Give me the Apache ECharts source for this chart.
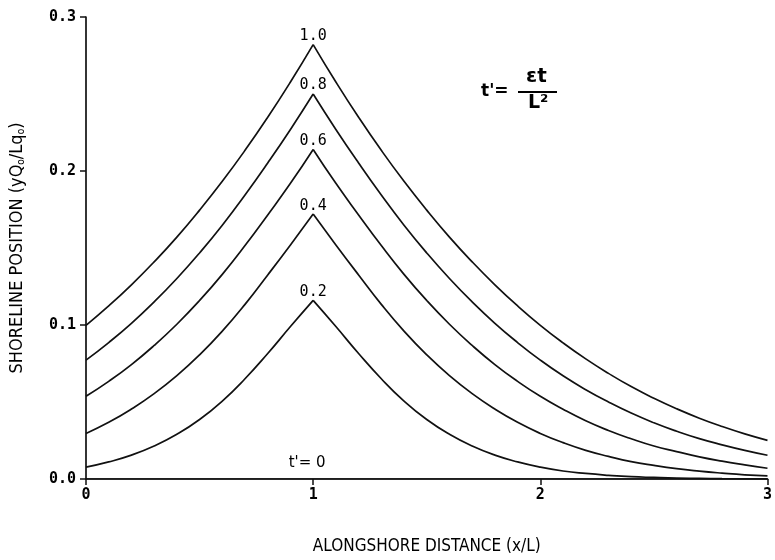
<!DOCTYPE html>
<html><head><meta charset="utf-8">
<script src="https://cdn.jsdelivr.net/npm/echarts@6/dist/echarts.min.js"></script>
<style>html,body{margin:0;padding:0;background:#fff}#c{width:775px;height:560px}</style>
</head><body><div id="c"></div>
<script>
const xValues = [0,0.1,0.2,0.3,0.4,0.5,0.6,0.7,0.8,0.9,1.0,1.1,1.2,1.3,1.4,1.5,1.6,1.7,1.8,1.9,2.0,2.1,2.2,2.3,2.4,2.5,2.6,2.7,2.8,2.9,3.0];
const tLabels = ['0.2','0.4','0.6','0.8','1.0'];
const y02 = [0.0077,0.0111,0.0155,0.0214,0.029,0.0386,0.0506,0.0651,0.0815,0.099,0.116,0.099,0.0815,0.0651,0.0506,0.0386,0.029,0.0214,0.0155,0.0111,0.0077,0.0052,0.0036,0.0024,0.0015,0.001,0.0006,0.0004,0.0002,0.0001,0.0001];
const y04 = [0.0296,0.0368,0.0454,0.0554,0.0671,0.0806,0.096,0.1134,0.1325,0.152,0.172,0.152,0.1325,0.1134,0.096,0.0806,0.0671,0.0554,0.0454,0.0368,0.0296,0.0236,0.0186,0.0147,0.0113,0.0088,0.0067,0.0051,0.0038,0.0027,0.002];
const y06 = [0.0537,0.0634,0.0743,0.0867,0.1005,0.1159,0.1329,0.1516,0.1715,0.192,0.214,0.192,0.1715,0.1516,0.1329,0.1159,0.1005,0.0867,0.0743,0.0634,0.0537,0.0453,0.0378,0.0315,0.0261,0.0214,0.0178,0.0144,0.0116,0.0092,0.007];
const y08 = [0.0772,0.0886,0.1011,0.115,0.1302,0.1468,0.1648,0.1844,0.2052,0.227,0.25,0.227,0.2052,0.1844,0.1648,0.1468,0.1302,0.115,0.1011,0.0886,0.0772,0.067,0.058,0.05,0.0428,0.0365,0.031,0.0262,0.0222,0.0186,0.0154];
const y10 = [0.0998,0.1124,0.1261,0.141,0.1571,0.1746,0.1933,0.2134,0.2349,0.2578,0.2821,0.2578,0.2349,0.2134,0.1933,0.1746,0.1571,0.141,0.1261,0.1124,0.0998,0.0884,0.078,0.0686,0.06,0.0524,0.0456,0.0395,0.0341,0.0293,0.0251];
const y00 = xValues.map(() => 0);
const curves = [y02, y04, y06, y08, y10];
const peakX = 1.0;

const ink = '#000';
const lineStyle = { color: '#111', width: 1.7 };
const series = [];
const pk = xValues.indexOf(peakX);
curves.forEach((ys) => {
  const left = xValues.slice(0, pk + 1).map((x, i) => [x, ys[i]]);
  const right = xValues.slice(pk).map((x, i) => [x, ys[pk + i]]);
  series.push({ type: 'line', data: left, smooth: 0.5, showSymbol: false, symbol: 'none', lineStyle, silent: true, z: 3 });
  series.push({ type: 'line', data: right, smooth: 0.5, showSymbol: false, symbol: 'none', lineStyle, silent: true, z: 3 });
});
series.push({ type: 'line', data: xValues.map((x, i) => [x, y00[i]]), symbol: 'none', lineStyle, silent: true });
// peak labels
series.push({
  type: 'scatter', symbol: 'circle', symbolSize: 0, itemStyle: { color: ink }, silent: true, z: 5,
  data: curves.map((ys, k) => ({ value: [peakX, ys[pk]], name: tLabels[k] })),
  label: { show: true, position: 'top', distance: 1, formatter: p => p.name,
    fontFamily: 'DejaVu Sans Mono', fontSize: 15, color: ink, opacity: 1 }
});
series.push({
  type: 'scatter', symbol: 'circle', symbolSize: 0, itemStyle: { color: ink }, silent: true, z: 5,
  data: [{ value: [peakX, y00[pk]], name: "t'= 0" }],
  label: { show: true, position: 'top', distance: 8, offset: [-6, 0], formatter: p => p.name,
    fontFamily: 'DejaVu Sans', fontSize: 15, color: ink, opacity: 1 }
});

const chart = echarts.init(document.getElementById('c'), null, { renderer: 'canvas' });
chart.setOption({
  animation: false,
  backgroundColor: '#fff',
  grid: { left: 86, right: 4, top: 17, bottom: 79 },
  xAxis: {
    type: 'value', min: 0, max: 3, interval: 1,
    name: 'ALONGSHORE DISTANCE (x/L)', nameLocation: 'middle', nameGap: 59,
    nameTextStyle: { fontFamily: 'DejaVu Sans Condensed, DejaVu Sans', fontSize: 17, color: ink },
    axisLine: { onZero: false, lineStyle: { color: '#111', width: 1.7 } },
    axisTick: { length: 6, lineStyle: { color: '#111', width: 1.5 } },
    axisLabel: { margin: 9, fontFamily: 'DejaVu Sans Mono', fontWeight: 'bold', fontSize: 15, color: ink },
    splitLine: { show: false }
  },
  yAxis: {
    type: 'value', min: 0, max: 0.3, interval: 0.1,
    name: '{a|SHORELINE POSITION (yQ}{s|o}{a|/Lq}{s|o}{a|)}', nameLocation: 'middle', nameGap: 60,
    nameRotate: 90,
    nameTextStyle: {
      rich: {
        a: { fontFamily: 'DejaVu Sans Condensed, DejaVu Sans', fontSize: 18, color: ink },
        s: { fontFamily: 'DejaVu Sans Condensed, DejaVu Sans', fontSize: 10, color: ink, verticalAlign: 'bottom', padding: [8, 0, 0, 0] }
      }
    },
    axisLine: { show: true, lineStyle: { color: '#111', width: 1.7 } },
    axisTick: { show: true, length: 6, lineStyle: { color: '#111', width: 1.5 } },
    axisLabel: { margin: 10, formatter: v => v.toFixed(1), fontFamily: 'DejaVu Sans Mono', fontWeight: 'bold', fontSize: 15, color: ink },
    splitLine: { show: false }
  },
  graphic: [
    { type: 'text', left: 481, top: 83, style: { text: "t'=", font: 'bold 17px DejaVu Sans', fill: ink } },
    { type: 'text', left: 526, top: 67, style: { text: 'εt', font: 'bold 20px DejaVu Sans', fill: ink } },
    { type: 'line', shape: { x1: 518, y1: 92, x2: 557, y2: 92 }, style: { stroke: ink, lineWidth: 1.8 } },
    { type: 'text', left: 528, top: 94, style: { text: 'L²', font: 'bold 19px DejaVu Sans', fill: ink } }
  ],
  series
});
</script></body></html>
